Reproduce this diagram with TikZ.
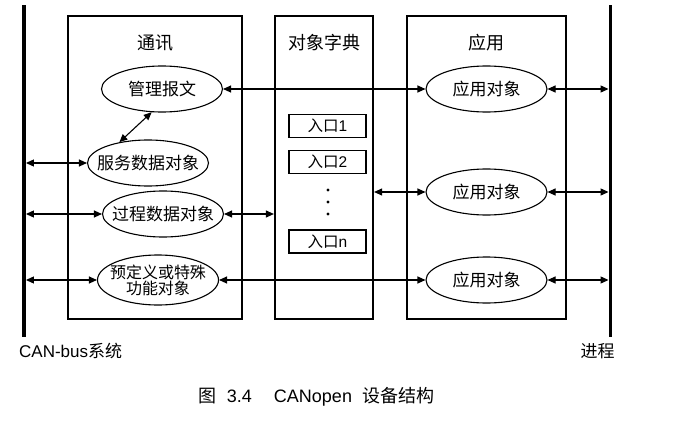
\documentclass[tikz,border=0pt]{standalone}
\usepackage{fontspec}
\setmainfont{Noto Sans CJK SC}
\newfontfamily\lat{Liberation Sans}
\usetikzlibrary{positioning,arrows.meta,shapes.geometric}

\begin{document}
\begin{tikzpicture}[x=1pt, y=-1pt,
  block/.style={draw, line width=2.2pt, minimum height=303pt},
  obj/.style={draw, ellipse, line width=1.1pt, minimum width=121pt, minimum height=46pt,
              inner xsep=-10pt, inner ysep=0pt, align=center, font=\fontsize{17}{19}\selectfont},
  entry/.style={draw, line width=1.1pt, minimum width=77pt, minimum height=23pt,
                inner sep=0pt, font=\fontsize{15.5}{17}\selectfont},
  bus/.style={fill=black, inner sep=0pt, minimum width=3.5pt, minimum height=332pt},
  head/.style={font=\fontsize{18}{20}\selectfont},
  arr/.style={{Triangle[length=8pt,width=7pt]}-{Triangle[length=8pt,width=7pt]}, line width=1.1pt},
]
\useasboundingbox (0,0) rectangle (678,423);

% buses
\node[bus] (canbus) at (24,171) {};
\node[bus] (proc) at (610.5,171) {};
\node[anchor=west, inner sep=0pt, font=\fontsize{17}{19}\selectfont] (canlbl) at (19,351) {{\lat CAN-bus}系统};
\node[font=\fontsize{17}{19}\selectfont] (proclbl) at (597.5,351) {进程};

% the three blocks
\node[block, minimum width=174pt] (comm) at (155,167.5) {};
\node[block, minimum width=98pt] (dict) at (324,167.5) {};
\node[block, minimum width=159pt] (app) at (486.5,167.5) {};
\node[head] (commt) at (155,43) {通讯};
\node[head] (dictt) at (324,43) {对象字典};
\node[head] (appt) at (486.5,43) {应用};

% communication objects
\node[obj] (mgmt) at (162,89) {管理报文};
\node[obj] (sdo) at (148,163) {服务数据对象};
\node[obj] (pdo) at (163,214) {过程数据对象};
\node[obj, minimum height=50pt, font=\fontsize{16}{17}\selectfont] (spec) at (158,280) {预定义或特殊\\[-1pt]功能对象};

% dictionary entries
\node[entry] (e1) at (327.5,126) {入口{\lat 1}};
\node[entry] (e2) at (327.5,162) {入口{\lat 2}};
\node[entry] (en) at (327.5,241.5) {入口{\lat n}};
\foreach \y in {190,202,214}
  \fill (328,\y) circle (1.7pt);

% application objects
\node[obj] (app1) at (486.5,89) {应用对象};
\node[obj] (app2) at (486.5,192) {应用对象};
\node[obj] (app3) at (486.5,280) {应用对象};

\draw[arr] (mgmt.east) -- (app1.west);
\draw[arr] (mgmt.246) -- (sdo.144);
\draw[arr] (sdo.west -| canbus.east) -- (sdo.west);
\draw[arr] (pdo.west -| canbus.east) -- (pdo.west);
\draw[arr] (pdo.east) -- (pdo.east -| dict.west);
\draw[arr] (spec.west -| canbus.east) -- (spec.west);
\draw[arr] (spec.east) -- (app3.west);
\draw[arr] (dict.east |- app2.west) -- (app2.west);
\draw[arr] (app1.east) -- (app1.east -| proc.west);
\draw[arr] (app2.east) -- (app2.east -| proc.west);
\draw[arr] (app3.east) -- (app3.east -| proc.west);

\node[font=\fontsize{18}{20}\selectfont] (caption) at (316.5,397) {图\hspace{10pt}{\lat 3.4}\hspace{22pt}{\lat CANopen}\hspace{10pt}设备结构};
\end{tikzpicture}
\end{document}
